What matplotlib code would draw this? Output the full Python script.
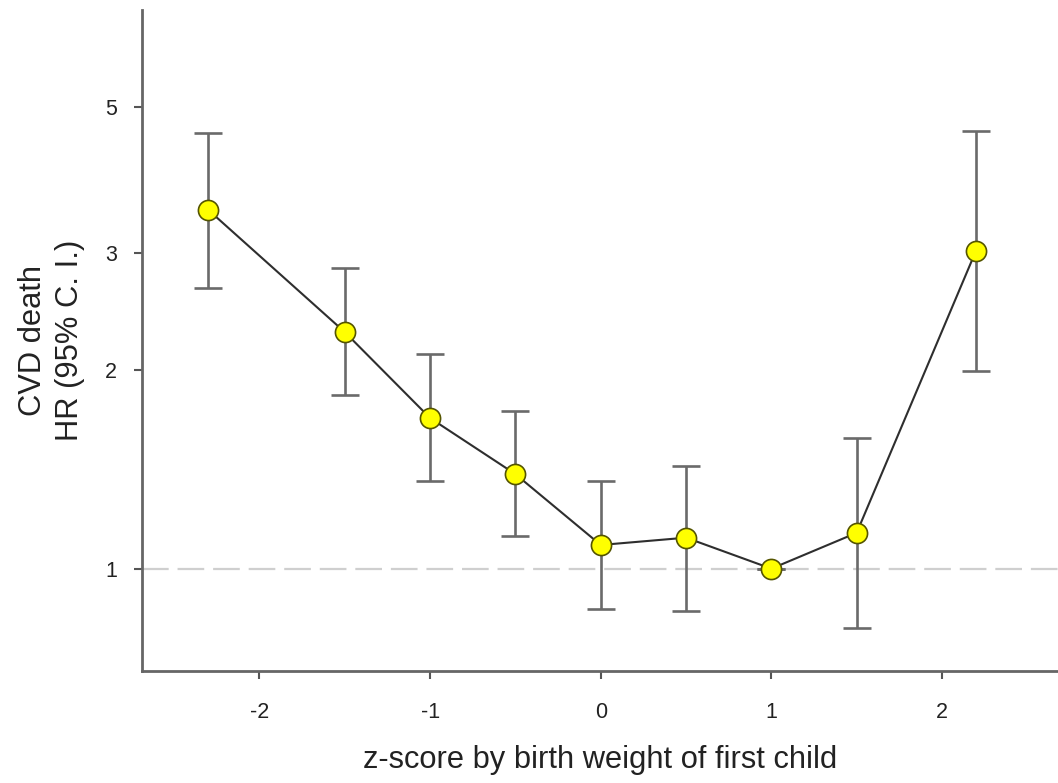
import matplotlib
matplotlib.use("Agg")
import matplotlib.pyplot as plt
import numpy as np

z_score = [-2.3, -1.5, -1.0, -0.5, 0.0, 0.5, 1.0, 1.5, 2.2]
hr = [3.49, 2.28, 1.69, 1.39, 1.086, 1.114, 1.0, 1.133, 3.03]
ci_low = [2.66, 1.83, 1.356, 1.12, 0.868, 0.863, 1.0, 0.814, 1.99]
ci_high = [4.56, 2.85, 2.115, 1.735, 1.356, 1.43, 1.0, 1.574, 4.60]
x_ticks = [-2, -1, 0, 1, 2]
y_ticks = [1, 2, 3, 5]

plt.rcParams['font.family'] = ['Liberation Sans', 'DejaVu Sans']

fig = plt.figure(figsize=(10.58, 7.83), dpi=100)
ax = fig.add_axes([0.134, 0.143, 0.866, 0.844])

ax.set_yscale('log')
ax.set_xlim(-2.69, 2.68)
ax.set_ylim(0.70, 7.0)

ax.axhline(1.0, color='#cfcfcf', linestyle=(0, (12, 4)), linewidth=1.6, zorder=1)

hr_a = np.array(hr)
yerr = np.vstack([hr_a - np.array(ci_low), np.array(ci_high) - hr_a])
ax.errorbar(z_score, hr, yerr=yerr, fmt='none', ecolor='#6a6a6a',
            elinewidth=1.9, capsize=10, capthick=1.9, zorder=2)
ax.plot(z_score, hr, color='#2e2e2e', linewidth=1.5, zorder=3)
ax.plot(z_score, hr, linestyle='none', marker='o', markersize=14.5,
        markerfacecolor='#ffff00', markeredgecolor='#555500',
        markeredgewidth=1.2, zorder=4)

ax.set_xticks(x_ticks)
ax.set_xticklabels([str(t) for t in x_ticks])
ax.yaxis.set_major_locator(matplotlib.ticker.FixedLocator(y_ticks))
ax.yaxis.set_minor_locator(matplotlib.ticker.NullLocator())
ax.set_yticklabels([str(t) for t in y_ticks])

for s in ['top', 'right']:
    ax.spines[s].set_visible(False)
for s in ['left', 'bottom']:
    ax.spines[s].set_color('#666666')
    ax.spines[s].set_linewidth(2.0)

ax.tick_params(axis='both', direction='out', length=6, width=1.5,
               color='#555555', labelsize=15.5, labelcolor='#222222')
ax.tick_params(axis='x', pad=16)
ax.tick_params(axis='y', pad=12)

ax.set_xlabel('z-score by birth weight of first child', fontsize=22.2,
              color='#222222', labelpad=16)
ax.set_ylabel('CVD death\nHR (95% C. I.)', fontsize=22.2, color='#222222',
              labelpad=14, linespacing=1.32)

fig.savefig('out.png', dpi=100, facecolor='white')
